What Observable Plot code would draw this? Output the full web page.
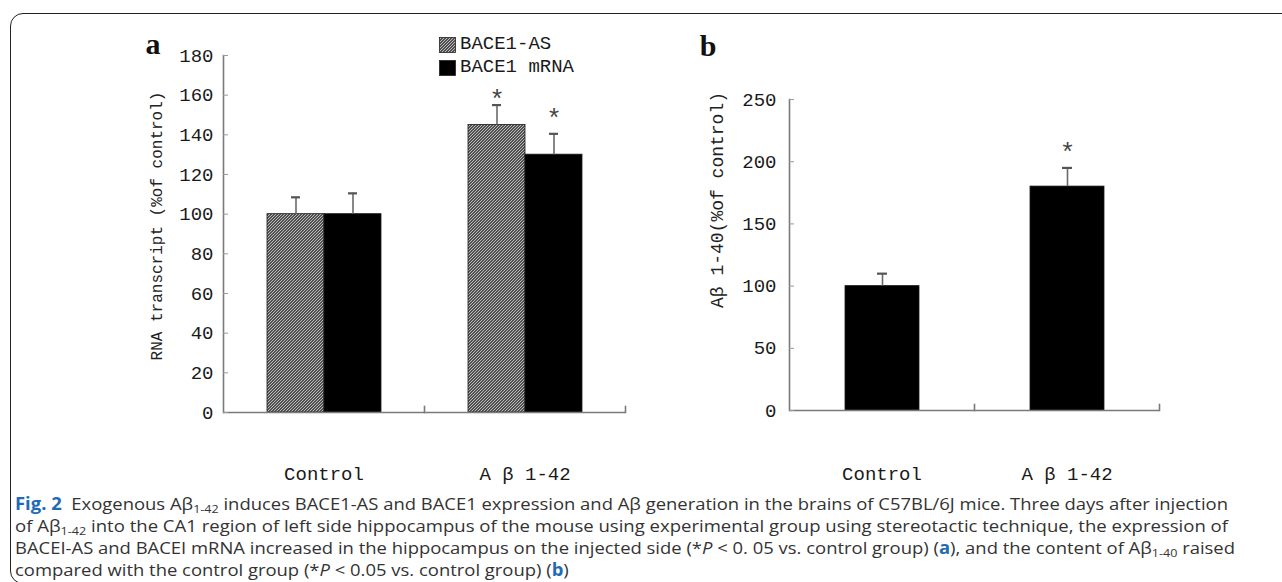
<!DOCTYPE html>
<html>
<head>
<meta charset="utf-8">
<script src="https://cdn.jsdelivr.net/npm/d3@7"></script>
<script src="https://cdn.jsdelivr.net/npm/@observablehq/plot@0.6"></script>
<style>
  html, body { margin: 0; padding: 0; background: #fff; }
  #wrap { position: relative; width: 1282px; height: 582px; overflow: hidden; font-family: "Liberation Mono", monospace; color: #1a1a1a; }
  #box { position: absolute; left: 10px; top: 13px; width: 1330px; height: 571px; border: 1.4px solid #222; border-radius: 13px; box-sizing: border-box; }
  .panel { position: absolute; top: 0; }
  .letter { position: absolute; font-family: "Liberation Serif", serif; font-weight: bold; font-size: 30px; line-height: 30px; color: #111; transform: translate(-50%, -50%); }
  #legend { position: absolute; left: 439px; top: 33px; font-size: 19px; line-height: 23px; }
  #legend .row { display: flex; align-items: center; height: 23px; }
  #legend svg { margin-right: 4px; }
  .cl { position: absolute; left: 15px; white-space: nowrap; font-family: "Open Sans", sans-serif; font-size: 17px; line-height: 22px; color: #333; transform-origin: 0 50%; }
  .cl sub { font-size: 0.68em; vertical-align: -0.3em; line-height: 0; }
  .blue { color: #1f6bb5; font-weight: bold; }
</style>
</head>
<body>
<svg width="0" height="0" style="position:absolute">
  <defs>
    <pattern id="hatch" patternUnits="userSpaceOnUse" width="3" height="3">
      <rect width="3" height="3" fill="#505050"/>
      <path d="M-1,1 l2,-2 M0,3 l3,-3 M2,4 l2,-2" stroke="#c8c8c8" stroke-width="0.9"/>
    </pattern>
  </defs>
</svg>
<div id="wrap">
  <div id="box"></div>
  <div id="panelA" class="panel" style="left:0px"></div>
  <div id="panelB" class="panel" style="left:640px"></div>
  <div class="letter" style="left:153px; top:44px">a</div>
  <div class="letter" style="left:708px; top:46px">b</div>
  <div id="legend"></div>
  <div id="caption"></div>
</div>
<script>
// ---------- data ----------
const groups = ["Control", "A β 1-42"];
const seriesA = ["BACE1-AS", "BACE1 mRNA"];
const asValues = [100, 145];
const asErrors = [8.5, 10];
const asStars = [null, 161];
const mrnaValues = [100, 130];
const mrnaErrors = [10.5, 10.5];
const mrnaStars = [null, 151];
const ticksA = [0, 20, 40, 60, 80, 100, 120, 140, 160, 180];
const labelA = "RNA transcript (%of control)";

const seriesB = ["Aβ1-40"];
const abValues = [100, 180];
const abErrors = [10, 15];
const abStars = [null, 212];
const ticksB = [0, 50, 100, 150, 200, 250];
const labelB = "Aβ 1-40(%of control)";

const fillsA = ["url(#hatch)", "#000"];
const fillsB = ["#000"];

const rowsA = [];
groups.forEach((g, i) => {
  rowsA.push({group: g, series: seriesA[0], value: asValues[i], err: asErrors[i], star: asStars[i]});
  rowsA.push({group: g, series: seriesA[1], value: mrnaValues[i], err: mrnaErrors[i], star: mrnaStars[i]});
});
const rowsB = groups.map((g, i) => ({group: g, series: seriesB[0], value: abValues[i], err: abErrors[i], star: abStars[i]}));

function makePanel({rows, seriesDomain, fills, yTicks, yMax, yLabel, width, height, mL, mR, mT, mB, labelDx, labelDy, labelSize, tickPad, fxPad, capInset}) {
  const plotH = height - mT - mB;
  const top = d => d.value + d.err;
  const axisColor = "#7a7a7a";
  return Plot.plot({
    width, height,
    marginLeft: mL, marginRight: mR, marginTop: mT, marginBottom: mB,
    style: {fontFamily: "'Liberation Mono', monospace", color: "#1a1a1a", background: "transparent", overflow: "visible"},
    fx: {domain: groups, padding: 0},
    x: {domain: seriesDomain, paddingInner: 0, paddingOuter: 0.75, axis: null},
    y: {domain: [0, yMax]},
    color: {type: "ordinal", domain: seriesDomain, range: fills},
    marks: [
      Plot.barY(rows, {fx: "group", x: "series", y: "value", fill: "series", stroke: "#1a1a1a", strokeWidth: 0.8}),
      Plot.ruleX(rows, {fx: "group", x: "series", y1: "value", y2: top, stroke: "#6a6a6a", strokeWidth: 1.6}),
      Plot.tickY(rows, {fx: "group", x: "series", y: top, stroke: "#555", strokeWidth: 2.2, insetLeft: capInset, insetRight: capInset}),
      Plot.text(rows.filter(d => d.star != null), {fx: "group", x: "series", y: "star", text: () => "*", fontSize: 26, fill: "#444", dy: 6}),
      Plot.ruleY([0], {stroke: axisColor, strokeWidth: 1.6}),
      Plot.frame({anchor: "right", insetTop: plotH - 6, stroke: axisColor, strokeWidth: 1.6}),
      Plot.frame({anchor: "left", fx: [groups[0]], stroke: axisColor, strokeWidth: 1.6}),
      Plot.axisY({ticks: yTicks, tickSize: -5, tickPadding: tickPad + 5, stroke: "#9a9a9a", fill: "#1a1a1a", fontSize: 19, tickFormat: d => String(d), label: null}),
      Plot.axisFx({anchor: "bottom", tickSize: 0, tickPadding: fxPad, fontSize: 19, fill: "#1a1a1a", label: null}),
      Plot.text([yLabel], {fx: [groups[0]], frameAnchor: "left", textAnchor: "middle", rotate: -90, dx: labelDx, dy: labelDy, fontSize: labelSize, fill: "#222"})
    ]
  });
}

document.getElementById("panelA").append(makePanel({
  rows: rowsA, seriesDomain: seriesA, fills: fillsA, yTicks: ticksA, yMax: 180, yLabel: labelA,
  width: 640, height: 500, mL: 222, mR: 15, mT: 55, mB: 88, labelDx: -67, labelDy: -8, labelSize: 16,
  tickPad: 10, fxPad: 54, capInset: 24
}));
document.getElementById("panelB").append(makePanel({
  rows: rowsB, seriesDomain: seriesB, fills: fillsB, yTicks: ticksB, yMax: 250, yLabel: labelB,
  width: 642, height: 500, mL: 148, mR: 123, mT: 99, mB: 90, labelDx: -72, labelDy: -55, labelSize: 18,
  tickPad: 13, fxPad: 56, capInset: 32
}));

// legend
const legend = document.getElementById("legend");
seriesA.forEach((s, i) => {
  const row = document.createElement("div");
  row.className = "row";
  row.innerHTML = `<svg width="17" height="16"><rect x="0.5" y="0.5" width="16" height="15" fill="${fillsA[i]}" stroke="#222" stroke-width="0.8"/></svg><span>${s}</span>`;
  legend.append(row);
});

// caption
const captionLines = [
  `<span class="blue">Fig. 2</span>&nbsp; Exogenous Aβ<sub>1-42</sub> induces BACE1-AS and BACE1 expression and Aβ generation in the brains of C57BL/6J mice. Three days after injection`,
  `of Aβ<sub>1-42</sub> into the CA1 region of left side hippocampus of the mouse using experimental group using stereotactic technique, the expression of`,
  `BACEI-AS and BACEI mRNA increased in the hippocampus on the injected side (*<i>P</i> &lt; 0. 05 vs. control group) (<span class="blue">a</span>), and the content of Aβ<sub>1-40</sub> raised`,
  `compared with the control group (*<i>P</i> &lt; 0.05 vs. control group) (<span class="blue">b</span>)`
];
const lineCenters = [504, 526, 548, 570];
const targets = [1213, 1213, 1220, null];
const cap = document.getElementById("caption");
let lastScale = 1;
captionLines.forEach((html, i) => {
  const d = document.createElement("div");
  d.className = "cl";
  d.innerHTML = html;
  d.style.top = (lineCenters[i] - 11) + "px";
  cap.append(d);
  const w = d.getBoundingClientRect().width;
  const s = targets[i] ? targets[i] / w : lastScale;
  lastScale = s;
  d.style.transform = `scaleX(${s})`;
});
</script>
</body>
</html>
